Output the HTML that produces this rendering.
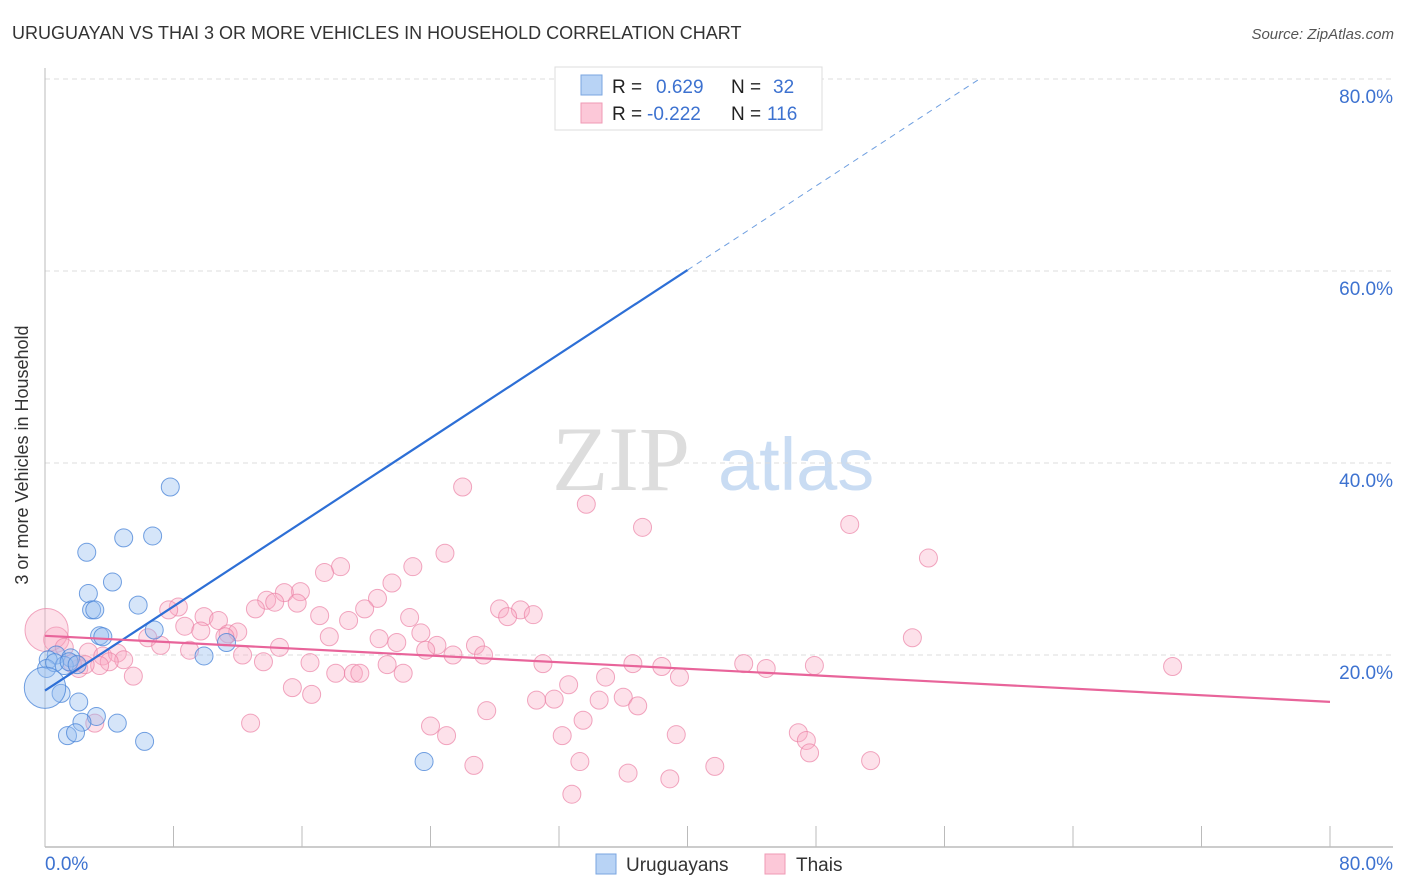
<!DOCTYPE html>
<html><head><meta charset="utf-8">
<style>
body{margin:0;background:#fff;font-family:"Liberation Sans",sans-serif;}
svg{display:block}
</style></head>
<body>
<svg id="chart" width="1406" height="892">
<text x="12" y="39" font-size="18" fill="#333">URUGUAYAN VS THAI 3 OR MORE VEHICLES IN HOUSEHOLD CORRELATION CHART</text>
<text x="1394" y="39" font-size="15" fill="#555" text-anchor="end" font-style="italic">Source: ZipAtlas.com</text>
<g>
<text x="552" y="490" font-size="92" fill="#ddd" font-family="Liberation Serif,serif">ZIP</text>
<text x="718" y="490" font-size="74" fill="#c9dcf3">atlas</text>
</g>
<g id="grid"></g>
<g id="axes"></g>
<g id="pts"></g>
<g id="lines"></g>
<text x="28" y="455" font-size="18" fill="#333" text-anchor="middle" transform="rotate(-90 28 455)">3 or more Vehicles in Household</text>
<g>
<rect x="555" y="67" width="267" height="63" fill="#fff" stroke="#ddd"/>
<rect x="581" y="75" width="21" height="20" fill="#b8d3f5" stroke="#7aa6e0"/>
<rect x="581" y="103" width="21" height="20" fill="#fcc8d8" stroke="#ef9ab5"/>
<text y="93" font-size="19"><tspan x="612" fill="#222">R = </tspan><tspan x="656" fill="#3d72d0">0.629</tspan><tspan x="731" fill="#222">N = </tspan><tspan x="773" fill="#3d72d0">32</tspan></text>
<text y="120" font-size="19"><tspan x="612" fill="#222">R = </tspan><tspan x="647" fill="#3d72d0">-0.222</tspan><tspan x="731" fill="#222">N = </tspan><tspan x="767" fill="#3d72d0">116</tspan></text>
</g>
<g>
<rect x="596" y="854" width="20" height="20" fill="#b8d3f5" stroke="#7aa6e0"/>
<text x="626" y="871" font-size="19" fill="#333">Uruguayans</text>
<rect x="765" y="854" width="20" height="20" fill="#fcc8d8" stroke="#ef9ab5"/>
<text x="796" y="871" font-size="19" fill="#333">Thais</text>
</g>
</svg>
<script>
const yTicks=[20,40,60,80];
const xTickLabels=["0.0%","80.0%"];
const uruX=[7.8,6.7,4.9,2.6,4.2,2.7,2.9,3.1,5.8,6.8,3.4,3.6,9.9,11.3,0.7,0.2,1.6,1.2,0.1,0.6,1.0,2.1,3.2,2.3,4.5,1.4,1.9,6.2,23.6,0.0,1.5,2.0];
const uruY=[37.5,32.4,32.2,30.7,27.6,26.4,24.7,24.7,25.2,22.6,22.0,21.9,19.9,21.3,20.0,19.5,19.7,18.9,18.6,19.2,16.0,15.1,13.6,13.0,12.9,11.6,11.9,11.0,8.9,16.6,19.3,19.0];
const uruSize=[1,1,1,1,1,1,1,1,1,1,1,1,1,1,1,1,1,1,1,1,1,1,1,1,1,1,1,1,1,2.3,1,1];
const thaiX=[26.0,33.7,37.2,50.1,55.0,24.9,18.4,17.4,22.9,21.6,20.7,15.9,14.9,13.8,14.3,15.7,13.1,19.9,17.1,18.9,22.7,28.3,29.6,28.8,30.4,8.3,7.7,9.9,10.8,8.7,9.7,11.4,12.0,11.2,17.7,20.8,23.4,24.4,26.8,21.9,23.7,25.4,27.3,54.0,6.4,7.2,9.0,12.3,14.6,0.7,0.1,1.2,2.7,3.6,4.5,4.9,4.0,2.1,3.4,5.5,13.6,16.5,21.3,22.3,31.0,36.6,38.4,43.5,44.9,47.9,70.2,18.1,19.2,19.6,32.6,34.9,39.5,15.4,16.6,30.6,31.7,34.5,36.0,36.9,27.5,33.5,12.8,24.0,3.1,32.2,25.0,39.3,46.9,47.4,47.6,33.3,26.7,36.3,38.9,41.7,51.4,32.8,2.5,1.7];
const thaiY=[37.5,35.7,33.3,33.6,30.1,30.6,29.2,28.6,29.2,27.5,25.9,26.6,26.5,25.7,25.5,25.4,24.8,24.8,24.1,23.6,23.9,24.8,24.7,24.0,24.2,25.0,24.7,24.0,23.6,23.0,22.5,22.2,22.4,21.9,21.9,21.7,22.3,21.0,21.0,21.3,20.5,20.0,20.0,21.8,21.8,21.0,20.5,20.0,20.8,21.6,22.6,20.8,20.3,19.9,20.2,19.5,19.3,18.6,18.9,17.8,19.3,19.2,19.0,18.1,19.1,19.1,18.8,19.1,18.6,18.9,18.8,18.1,18.1,18.1,16.9,17.7,17.7,16.6,15.9,15.3,15.4,15.3,15.6,14.7,14.2,13.2,12.9,12.6,12.9,11.6,11.6,11.7,11.9,11.1,9.8,8.9,8.5,7.7,7.1,8.4,9.0,5.5,19.0,19.1];
const thaiSize=thaiX.map((v,i)=>i===50?2.4:(i===49?1.4:1));
const uruFit=[16.3,1.095];
const thaiFit=[22.0,-0.086];

const NS="http://www.w3.org/2000/svg";
const X=v=>45+v*1285/80, Y=v=>847-v*9.6;
function mk(tag,attrs,parent){const e=document.createElementNS(NS,tag);for(const k in attrs)e.setAttribute(k,attrs[k]);parent.appendChild(e);return e;}
const grid=document.getElementById('grid'),axes=document.getElementById('axes'),pts=document.getElementById('pts'),lines=document.getElementById('lines');
yTicks.forEach(t=>{
 const l=mk('line',{x1:45,x2:1393,y1:Y(t),y2:Y(t),stroke:'#ddd','stroke-dasharray':'5,4'},grid);
 
 
 const tx=mk('text',{x:1393,y:Y(t)+24,'font-size':19,fill:'#3d72d0','text-anchor':'end'},grid);
 tx.textContent=t.toFixed(1)+'%';
 
 
});
let a=mk('line',{x1:45,x2:45,y1:68,y2:847,stroke:'#bbb'},axes);


a=mk('line',{x1:45,x2:1393,y1:847,y2:847,stroke:'#bbb','stroke-width':1.5},axes);


for(let i=1;i<=10;i++){
 const t=mk('line',{x1:X(i*8),x2:X(i*8),y1:826,y2:847,stroke:'#bbb'},axes);
 
 
}
[[0,xTickLabels[0],'start',45],[80,xTickLabels[1],'end',1393]].forEach(d=>{
 const t=mk('text',{x:d[3],y:870,'font-size':19,fill:'#3d72d0','text-anchor':d[2]},axes);
 t.textContent=d[1];
 
 
});
thaiX.forEach((x,i)=>{
 const c=mk('circle',{cx:X(x),cy:Y(thaiY[i]),r:9*thaiSize[i],fill:'rgba(248,170,195,0.35)',stroke:'rgba(235,130,165,0.7)','stroke-width':1},pts);
 
 
});
uruX.forEach((x,i)=>{
 const c=mk('circle',{cx:X(x),cy:Y(uruY[i]),r:9*uruSize[i],fill:'rgba(150,190,240,0.4)',stroke:'rgba(70,130,215,0.75)','stroke-width':1},pts);
 
 
});
let l=mk('line',{x1:X(0),y1:Y(uruFit[0]),x2:X(40),y2:Y(uruFit[0]+40*uruFit[1]),stroke:'#2d6fd6','stroke-width':2.2},lines);


const xe=(80-uruFit[0])/uruFit[1];
l=mk('line',{x1:X(40),y1:Y(uruFit[0]+40*uruFit[1]),x2:X(xe),y2:Y(80),stroke:'#6f9fe0','stroke-width':1,'stroke-dasharray':'6,5'},lines);


l=mk('line',{x1:X(0),y1:Y(thaiFit[0]),x2:X(80),y2:Y(thaiFit[0]+80*thaiFit[1]),stroke:'#e8649a','stroke-width':2.2},lines);


</script>
</body></html>
